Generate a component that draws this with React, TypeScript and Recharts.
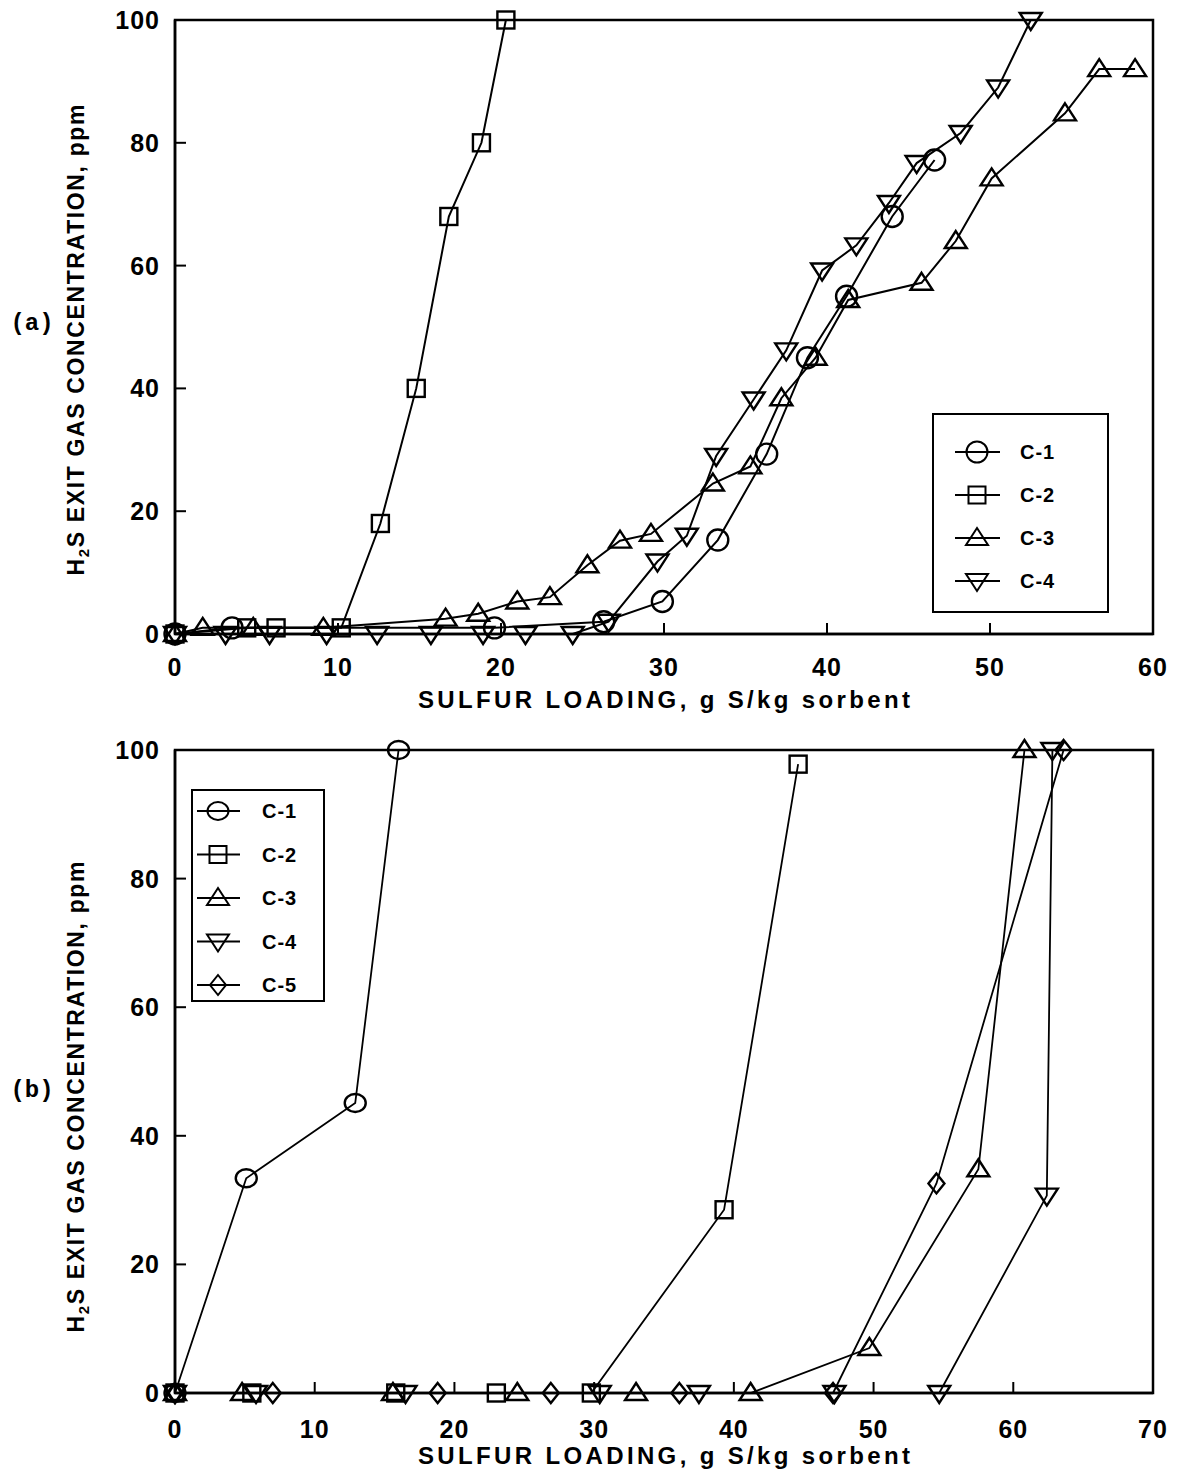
import React from "react"
import { LineChart, Line, XAxis, YAxis, ReferenceArea, Legend } from "recharts"

type Pt = [number, number]

// panel (a): sulfur loading (g S/kg) vs H2S exit concentration (ppm)
const A_C1: Pt[] = [[0, 0], [3.5, 1], [19.6, 1], [26.3, 2], [29.9, 5.3], [33.3, 15.3], [36.3, 29.3], [38.8, 45], [41.2, 55], [44, 68], [46.6, 77.2]]
const A_C2: Pt[] = [[0, 0], [4.4, 1], [6.2, 1], [10.2, 1], [12.6, 18], [14.8, 40], [16.8, 68], [18.8, 80], [20.3, 100]]
const A_C3: Pt[] = [[0, 0], [1.7, 1], [4.8, 1], [9.1, 1], [16.6, 2.5], [18.6, 3.3], [21.0, 5.3], [23.0, 6], [25.3, 11.2], [27.3, 15.2], [29.2, 16.3], [33.0, 24.5], [35.3, 27.3], [37.2, 38.4], [39.3, 45], [41.3, 54.4], [45.8, 57.2], [47.9, 64], [50.1, 74.2], [54.6, 84.8], [56.7, 92], [58.9, 92]]
const A_C4: Pt[] = [[0, 0], [3.1, 0], [5.8, 0], [9.3, 0], [12.4, 0], [15.7, 0], [18.9, 0], [21.5, 0], [24.4, 0], [26.6, 2], [29.6, 11.8], [31.4, 16], [33.2, 29], [35.5, 38.2], [37.5, 46.2], [39.7, 59.2], [41.8, 63.3], [43.8, 70.2], [45.5, 76.7], [48.2, 81.6], [50.5, 89], [52.5, 100]]

// panel (b)
const B_C1: Pt[] = [[0, 0], [5.1, 33.4], [12.9, 45.1], [16.0, 100]]
const B_C2: Pt[] = [[0, 0], [5.5, 0], [15.8, 0], [23.0, 0], [29.8, 0], [39.3, 28.5], [44.6, 97.8]]
const B_C3: Pt[] = [[0, 0], [4.8, 0], [15.6, 0], [24.5, 0], [33.0, 0], [41.2, 0], [49.7, 7.0], [57.5, 34.8], [60.8, 100]]
const B_C4: Pt[] = [[0, 0], [5.8, 0], [16.5, 0], [30.4, 0], [37.5, 0], [47.2, 0], [54.7, 0], [62.4, 30.7], [62.8, 100]]
const B_C5: Pt[] = [[0, 0], [7.0, 0], [18.8, 0], [26.9, 0], [36.1, 0], [47.1, 0], [54.5, 32.6], [63.6, 100]]

const A_XTICKS = [0, 10, 20, 30, 40, 50, 60]
const B_XTICKS = [0, 10, 20, 30, 40, 50, 60, 70]
const YTICKS = [0, 20, 40, 60, 80, 100]

const SERIES_NAMES = ["C-1", "C-2", "C-3", "C-4", "C-5"]
const SHAPES: Record<string, string> = { "C-1": "circle", "C-2": "square", "C-3": "up", "C-4": "down", "C-5": "diamond" }

const SANS = "'Liberation Sans', Arial, sans-serif"

const toRows = (pts: Pt[]) => pts.map(([x, y]) => ({ x, y }))

function Marker({ shape, cx, cy, sw = 2.4, ry = 10.5 }: any) {
  const p = { fill: "none", stroke: "#000", strokeWidth: sw }
  if (cx == null || cy == null) return null
  switch (shape) {
    case "circle":
      return <ellipse cx={cx} cy={cy} rx={10.5} ry={ry} {...p} />
    case "square":
      return <rect x={cx - 8.5} y={cy - 8.5} width={17} height={17} {...p} />
    case "up":
      return <polygon points={`${cx},${cy - 10} ${cx + 11},${cy + 7} ${cx - 11},${cy + 7}`} {...p} />
    case "down":
      return <polygon points={`${cx - 11},${cy - 7} ${cx + 11},${cy - 7} ${cx},${cy + 10}`} {...p} />
    default:
      return <polygon points={`${cx},${cy - 10} ${cx + 8},${cy} ${cx},${cy + 10} ${cx - 8},${cy}`} {...p} />
  }
}

const XTick = ({ x, y, payload, dy }: any) => (
  <g>
    <line x1={x} x2={x} y1={y} y2={y - 11} stroke="#000" strokeWidth={2} />
    <text x={x} y={y + dy} textAnchor="middle" fontFamily={SANS} fontWeight={700} fontSize={25} letterSpacing={1} fill="#000">
      {payload.value}
    </text>
  </g>
)

const YTick = ({ x, y, payload }: any) => (
  <g>
    <line x1={x} x2={x + 11} y1={y} y2={y} stroke="#000" strokeWidth={2} />
    <text x={x - 15} y={y + 9} textAnchor="end" fontFamily={SANS} fontWeight={700} fontSize={25} letterSpacing={1} fill="#000">
      {payload.value}
    </text>
  </g>
)

function YTitle({ midY, tag, tagY }: any) {
  return (
    <g>
      <text
        transform={`translate(84,${midY}) rotate(-90)`}
        textAnchor="middle"
        fontFamily={SANS}
        fontWeight={700}
        fontSize={23}
        textLength={471}
        lengthAdjust="spacing"
        fill="#000"
      >
        H<tspan dy={5} fontSize={15}>2</tspan><tspan dy={-5}>S EXIT GAS CONCENTRATION, ppm</tspan>
      </text>
      <text x={32} y={tagY} textAnchor="middle" fontFamily="'Liberation Mono', 'Courier New', monospace" fontWeight={700} fontSize={24} fill="#000">
        {tag}
      </text>
    </g>
  )
}

function XTitle({ baseY }: any) {
  return (
    <text x={664} y={baseY} textAnchor="middle" fontFamily={SANS} fontWeight={700} fontSize={24} textLength={492} lengthAdjust="spacing" fill="#000">
      SULFUR LOADING, g S/kg sorbent
    </text>
  )
}

function LegendBox({ payload, w, h, top0, step, lineX1, lineX2, symX, textX, ry }: any) {
  const items = (payload || []).filter((it: any) => SHAPES[it.value])
  return (
    <svg width={w} height={h} style={{ display: "block", overflow: "visible" }}>
      <rect x={1} y={1} width={w - 2} height={h - 2} fill="#fff" stroke="#000" strokeWidth={2} />
      {items.map((it: any, i: number) => {
        const y = top0 + i * step
        return (
          <g key={it.value}>
            <line x1={lineX1} x2={lineX2} y1={y} y2={y} stroke="#000" strokeWidth={2} />
            <Marker shape={SHAPES[it.value]} cx={symX} cy={y} sw={2} ry={ry} />
            <text x={textX} y={y + 7} fontFamily={SANS} fontWeight={700} fontSize={20} letterSpacing={1} fill="#000">
              {it.value}
            </text>
          </g>
        )
      })}
    </svg>
  )
}

function Panel({ series, xMax, xTicks, height, top, tickDy, titleY, yTitleCy, tag, tagY, legend, ry, lw }: any) {
  const mTop = top === 0 ? 20 : 30
  const plotH = top === 0 ? 614 : 643
  return (
    <div style={{ position: "absolute", left: 0, top }}>
      <LineChart width={1181} height={height} margin={{ top: mTop, right: 28, bottom: 0, left: 0 }}>
        <XAxis
          type="number"
          dataKey="x"
          domain={[0, xMax]}
          ticks={xTicks}
          height={height - mTop - plotH}
          tickSize={0}
          tickMargin={0}
          tickLine={false}
          axisLine={{ stroke: "#000", strokeWidth: 2.5 }}
          tick={<XTick dy={tickDy} />}
          interval={0}
          label={<XTitle baseY={titleY} />}
          allowDuplicatedCategory={false}
        />
        <YAxis
          type="number"
          dataKey="y"
          domain={[0, 100]}
          ticks={YTICKS}
          width={175}
          tickSize={0}
          tickMargin={0}
          tickLine={false}
          axisLine={{ stroke: "#000", strokeWidth: 2.5 }}
          tick={<YTick />}
          interval={0}
          label={<YTitle midY={yTitleCy} tag={tag} tagY={tagY} />}
        />
        <ReferenceArea x1={0} x2={xMax} y1={0} y2={100} fill="none" fillOpacity={0} stroke="#000" strokeWidth={2.5} ifOverflow="visible" />
        {series.map((pts: Pt[], i: number) => {
          const name = SERIES_NAMES[i]
          return (
            <Line
              key={name}
              name={name}
              data={toRows(pts)}
              dataKey="y"
              type="linear"
              stroke="#000"
              strokeWidth={lw}
              isAnimationActive={false}
              dot={(p: any) => <Marker key={`${name}-${p.index}`} shape={SHAPES[name]} cx={p.cx} cy={p.cy} ry={ry} />}
              activeDot={false}
            />
          )
        })}
        <Legend
          layout="vertical"
          align="center"
          verticalAlign="middle"
          wrapperStyle={{ left: legend.left, top: legend.top, width: legend.w, height: legend.h }}
          content={(props: any) => <LegendBox payload={props.payload} ry={ry} {...legend} />}
        />
      </LineChart>
    </div>
  )
}

export default function App() {
  return (
    <div style={{ position: "relative", width: 1181, height: 1477, background: "#fff", margin: -8 }}>
      <Panel
        series={[A_C1, A_C2, A_C3, A_C4]}
        xMax={60}
        xTicks={A_XTICKS}
        height={720}
        top={0}
        tickDy={42}
        titleY={708}
        yTitleCy={340}
        tag="(a)"
        tagY={330}
        ry={10.5}
        lw={2}
        legend={{ left: 932, top: 413, w: 177, h: 200, top0: 39, step: 43, lineX1: 23, lineX2: 68, symX: 45, textX: 88 }}
      />
      <Panel
        series={[B_C1, B_C2, B_C3, B_C4, B_C5]}
        xMax={70}
        xTicks={B_XTICKS}
        height={757}
        top={720}
        tickDy={45}
        titleY={744}
        yTitleCy={377}
        tag="(b)"
        tagY={377}
        ry={9}
        lw={1.8}
        legend={{ left: 191, top: 69, w: 134, h: 213, top0: 22, step: 43.5, lineX1: 6, lineX2: 49, symX: 27, textX: 71 }}
      />
    </div>
  )
}
